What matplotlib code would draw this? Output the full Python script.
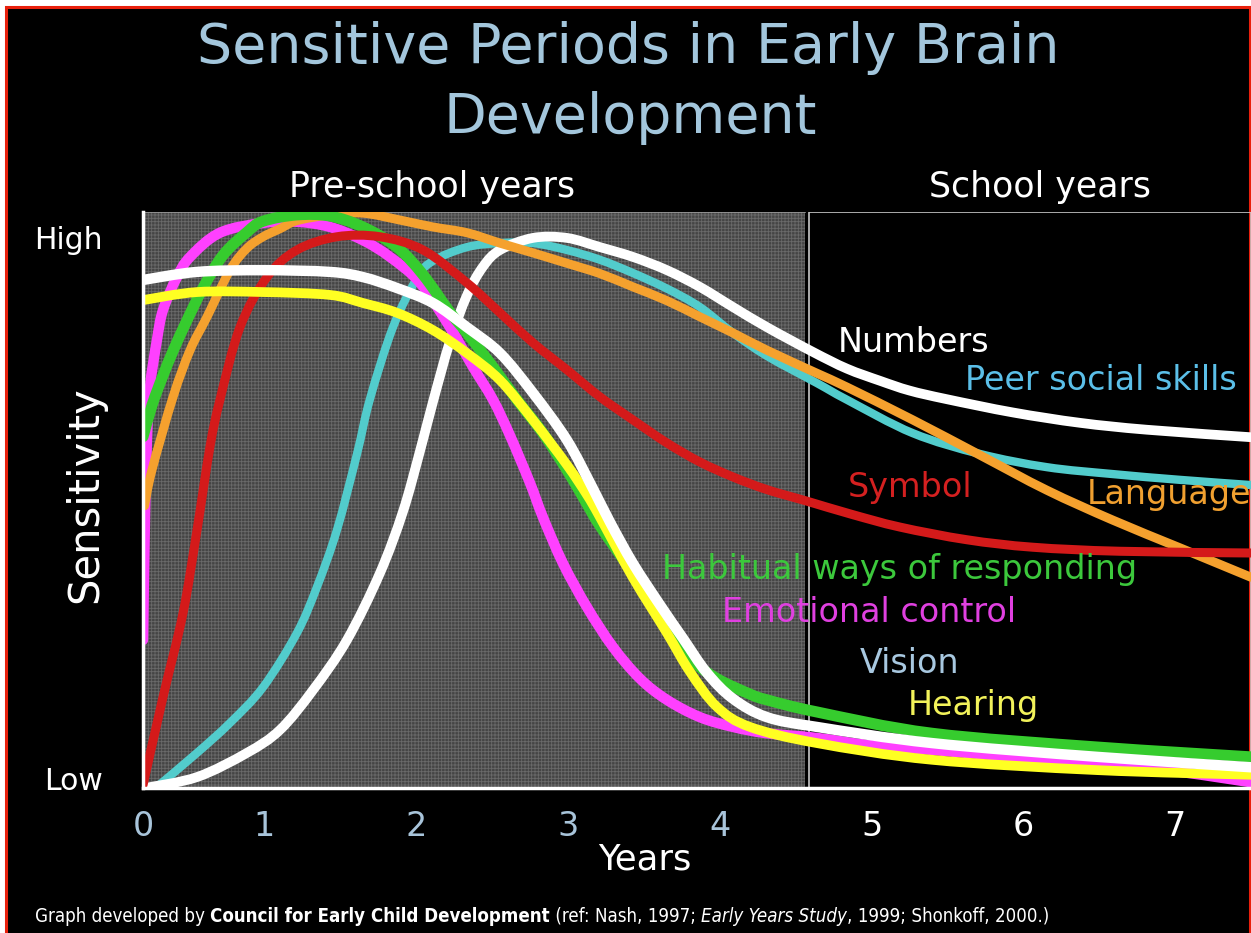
import matplotlib
matplotlib.use('Agg')
import matplotlib.pyplot as plt
import numpy as np
from matplotlib.patches import Rectangle, PathPatch
from matplotlib.path import Path

W, H = 1251, 933

# x = age in years, y = relative sensitivity (0 = low, 1 = high)
symbol_x = [0.20, 0.332, 0.464, 0.556, 0.641, 0.707, 0.839, 1.017, 1.214, 1.478, 1.761, 2.045, 2.334, 2.552,
            2.769, 2.993, 3.211, 3.428, 3.652, 3.869, 4.087, 4.311, 4.574, 4.857, 5.187, 5.628, 6.063, 6.636, 7.499]
symbol_y = [0.005, 0.158, 0.304, 0.448, 0.592, 0.674, 0.800, 0.887, 0.934, 0.957, 0.957, 0.934, 0.877, 0.825,
            0.773, 0.726, 0.679, 0.639, 0.599, 0.566, 0.540, 0.518, 0.498, 0.476, 0.453, 0.431, 0.418, 0.411, 0.408]

emotion_x = [0.20, 0.213, 0.226, 0.246, 0.292, 0.332, 0.424, 0.510, 0.707, 0.991, 1.214, 1.432, 1.649, 1.827,
             2.025, 2.222, 2.374, 2.506, 2.618, 2.749, 2.835, 2.967, 3.125, 3.296, 3.474, 3.652, 3.869, 4.087,
             4.311, 4.640, 4.969, 5.398, 5.846, 6.491, 7.031, 7.499]
emotion_y = [0.257, 0.465, 0.604, 0.696, 0.778, 0.830, 0.887, 0.922, 0.964, 0.981, 0.983, 0.974, 0.951, 0.922,
             0.877, 0.800, 0.731, 0.674, 0.612, 0.530, 0.470, 0.390, 0.314, 0.245, 0.190, 0.153, 0.123, 0.106,
             0.095, 0.087, 0.075, 0.066, 0.056, 0.043, 0.028, 0.010]

habit_x = [0.20, 0.26, 0.33, 0.40, 0.490, 0.595, 0.727, 0.885, 0.991, 1.214, 1.432, 1.649, 1.873, 2.045,
           2.222, 2.334, 2.506, 2.664, 2.835, 2.993, 3.099, 3.211, 3.428, 3.652, 3.823, 3.981, 4.199, 4.311,
           4.640, 5.398, 6.491, 7.499]
habit_y = [0.610, 0.665, 0.715, 0.760, 0.812, 0.868, 0.925, 0.965, 0.984, 0.995, 0.993, 0.974, 0.939, 0.891,
           0.826, 0.790, 0.731, 0.674, 0.616, 0.552, 0.505, 0.455, 0.373, 0.286, 0.222, 0.190, 0.163, 0.153,
           0.132, 0.095, 0.071, 0.054]

language_x = [0.21, 0.259, 0.398, 0.510, 0.622, 0.773, 0.885, 0.991, 1.103, 1.214, 1.432, 1.649, 1.893, 2.110,
              2.334, 2.552, 2.769, 2.993, 3.211, 3.428, 3.652, 3.869, 4.087, 4.311, 4.640, 4.838, 5.272, 5.714,
              6.155, 6.590, 7.031, 7.499]
language_y = [0.490, 0.552, 0.679, 0.760, 0.818, 0.899, 0.937, 0.957, 0.971, 0.985, 0.995, 0.998, 0.986, 0.974,
              0.964, 0.946, 0.929, 0.911, 0.893, 0.870, 0.846, 0.818, 0.790, 0.760, 0.720, 0.696, 0.639, 0.578,
              0.517, 0.465, 0.417, 0.366]

peer_x = [0.292, 0.556, 0.773, 0.991, 1.214, 1.346, 1.478, 1.610, 1.695, 1.847, 2.005, 2.110, 2.334, 2.552,
          2.769, 2.993, 3.211, 3.428, 3.652, 3.869, 4.087, 4.311, 4.640, 4.838, 5.272, 5.714, 6.155, 6.590,
          7.031, 7.499]
peer_y = [0.002, 0.061, 0.113, 0.175, 0.269, 0.349, 0.448, 0.580, 0.675, 0.800, 0.885, 0.915, 0.939, 0.946,
          0.946, 0.934, 0.917, 0.894, 0.867, 0.835, 0.790, 0.750, 0.703, 0.674, 0.616, 0.580, 0.557, 0.545,
          0.535, 0.526]

numbers_x = [0.213, 0.556, 0.885, 1.103, 1.320, 1.544, 1.761, 1.913, 2.025, 2.110, 2.222, 2.334, 2.440, 2.552,
             2.769, 2.993, 3.211, 3.428, 3.652, 3.869, 4.087, 4.311, 4.614, 4.838, 5.055, 5.25, 5.496, 5.931,
             6.373, 6.814, 7.499]
numbers_y = [0.0, 0.019, 0.061, 0.101, 0.170, 0.257, 0.373, 0.480, 0.585, 0.670, 0.775, 0.855, 0.905, 0.934,
             0.955, 0.955, 0.939, 0.922, 0.899, 0.870, 0.835, 0.800, 0.757, 0.728, 0.707, 0.690, 0.675, 0.652,
             0.634, 0.622, 0.609]

vision_x = [0.20, 0.556, 0.991, 1.432, 1.649, 1.873, 2.110, 2.334, 2.552, 2.769, 2.993, 3.164, 3.276, 3.428,
            3.606, 3.757, 3.915, 4.087, 4.311, 4.640, 5.398, 6.491, 7.499]
vision_y = [0.882, 0.896, 0.899, 0.896, 0.887, 0.868, 0.842, 0.800, 0.755, 0.686, 0.604, 0.520, 0.462, 0.390,
            0.318, 0.260, 0.200, 0.155, 0.123, 0.106, 0.078, 0.054, 0.036]

hearing_x = [0.20, 0.556, 0.991, 1.432, 1.649, 1.873, 2.110, 2.334, 2.552, 2.769, 2.993, 3.125, 3.211, 3.428,
             3.652, 3.803, 3.981, 4.199, 4.640, 5.398, 6.491, 7.499]
hearing_y = [0.847, 0.861, 0.861, 0.856, 0.842, 0.825, 0.795, 0.755, 0.708, 0.639, 0.561, 0.509, 0.470, 0.365,
             0.269, 0.202, 0.141, 0.106, 0.078, 0.049, 0.031, 0.023]

preschool_end = 4.56
school_start = 4.585
tick_pos = [0.2, 1, 2, 3, 4, 5, 6, 7]
tick_labels = ['0', '1', '2', '3', '4', '5', '6', '7']

# draw order: first = bottom
series = [
    (peer_x, peer_y, '#52cccc', 6.0),
    (numbers_x, numbers_y, 'white', 7.0),
    (emotion_x, emotion_y, '#ff40ff', 7.5),
    (language_x, language_y, '#f5a12e', 6.5),
    (habit_x, habit_y, '#36cc2e', 8.0),
    (symbol_x, symbol_y, '#d41a1a', 6.5),
    (hearing_x, hearing_y, '#ffff22', 7.0),
    (vision_x, vision_y, 'white', 7.5),
]

labels = [
    ('Numbers', 4.778, 0.774, 'white'),
    ('Peer social skills', 5.615, 0.708, '#5bbfe8'),
    ('Symbol', 4.844, 0.521, '#d42020'),
    ('Language', 6.419, 0.509, '#f0a030'),
    ('Habitual ways of responding', 3.619, 0.380, '#3cc83c'),
    ('Emotional control', 4.014, 0.304, '#e040e0'),
    ('Vision', 4.923, 0.217, '#a8c8e0'),
    ('Hearing', 5.240, 0.144, '#f2f25a'),
]

footer_parts = [
    ('Graph developed by ', 'normal', 'normal'),
    ('Council for Early Child Development', 'bold', 'normal'),
    (' (ref: Nash, 1997; ', 'normal', 'normal'),
    ('Early Years Study', 'normal', 'italic'),
    (', 1999; Shonkoff, 2000.)', 'normal', 'normal'),
]

plt.rcParams['font.family'] = ['DejaVu Sans']
plt.rcParams['hatch.linewidth'] = 0.6


def fx(px):
    return px / W


def fy(py):
    return 1 - py / H


def smooth_path(xs, ys):
    # cubic bezier segments through the read points (Catmull-Rom style handles)
    p = np.column_stack([xs, ys])
    ext = np.vstack([p[0], p, p[-1]])
    verts = [p[0]]
    codes = [Path.MOVETO]
    for i in range(len(p) - 1):
        p0, p1, p2, p3 = ext[i], ext[i + 1], ext[i + 2], ext[i + 3]
        verts += [p1 + (p2 - p0) / 6, p2 - (p3 - p1) / 6, p2]
        codes += [Path.CURVE4] * 3
    return Path(verts, codes)


fig = plt.figure(figsize=(W / 100, H / 100), dpi=100, facecolor='white')
fig.patches.append(Rectangle((fx(6), -0.02), fx(W - 7.5), 1.02 - 7 / H, transform=fig.transFigure,
                             facecolor='black', edgecolor='#e8200c', linewidth=2.2, zorder=-10))

ax = fig.add_axes([fx(143), fy(788), fx(1108), 576 / H])
ax.set_facecolor('none')
ax.set_xlim(0.2, 7.5)
ax.set_ylim(0, 1)

ax.add_patch(Rectangle((0.2, 0), preschool_end - 0.2, 1, facecolor='#454545', edgecolor='#6a6a6a',
                       hatch='+++++', linewidth=0, zorder=0))
ax.plot([0.2, preschool_end], [1, 1], color='#9a9a9a', lw=1.2, zorder=1)
ax.add_patch(Rectangle((school_start, 0), 7.5 - school_start, 1, fill=False, edgecolor='#c8c8c8',
                       linewidth=1.2, zorder=1))

for xs, ys, col, lw in series:
    ax.add_patch(PathPatch(smooth_path(xs, ys), facecolor='none', edgecolor=col, lw=lw,
                           capstyle='round', joinstyle='round', zorder=3))

for txt, x, y, col in labels:
    ax.text(x, y, txt, color=col, fontsize=24, ha='left', va='center', zorder=5)

for side in ['top', 'right']:
    ax.spines[side].set_visible(False)
for side in ['left', 'bottom']:
    ax.spines[side].set_color('white')
    ax.spines[side].set_linewidth(2.5)
    ax.spines[side].set_zorder(6)

ax.set_xticks(tick_pos, tick_labels)
ax.tick_params(axis='x', length=0, pad=16, labelsize=24, colors='white')
for i, lab in enumerate(ax.get_xticklabels()):
    lab.set_color('#a8c4da' if i < 5 else 'white')
ax.set_yticks([0.016, 0.955], ['Low', 'High'])
ax.tick_params(axis='y', length=0, pad=29, labelsize=21.5, colors='white')

fig.text(fx(628), fy(48), 'Sensitive Periods in Early Brain', color='#a3c6dc', fontsize=40,
         ha='center', va='center')
fig.text(fx(630), fy(118), 'Development', color='#a3c6dc', fontsize=40, ha='center', va='center')
fig.text(fx(432), fy(187), 'Pre-school years', color='white', fontsize=25, ha='center', va='center')
fig.text(fx(1040), fy(187), 'School years', color='white', fontsize=25, ha='center', va='center')
fig.text(fx(645), fy(860), 'Years', color='white', fontsize=25.5, ha='center', va='center')
fig.text(fx(85), fy(495), 'Sensitivity', color='white', fontsize=30, rotation=90, ha='center', va='center')

# footer: pieces in different weights, placed one after the other
footer = [fig.text(0, fy(922), txt, color='white', fontsize=13.4, fontweight=wt, fontstyle=st,
                   fontstretch='condensed', ha='left', va='baseline')
          for txt, wt, st in footer_parts]
fig.canvas.draw()
renderer = fig.canvas.get_renderer()
x_cur = fx(35)
for t in footer:
    t.set_x(x_cur)
    x_cur += t.get_window_extent(renderer=renderer).width / W

fig.savefig('out.png', dpi=100, facecolor=fig.get_facecolor())
